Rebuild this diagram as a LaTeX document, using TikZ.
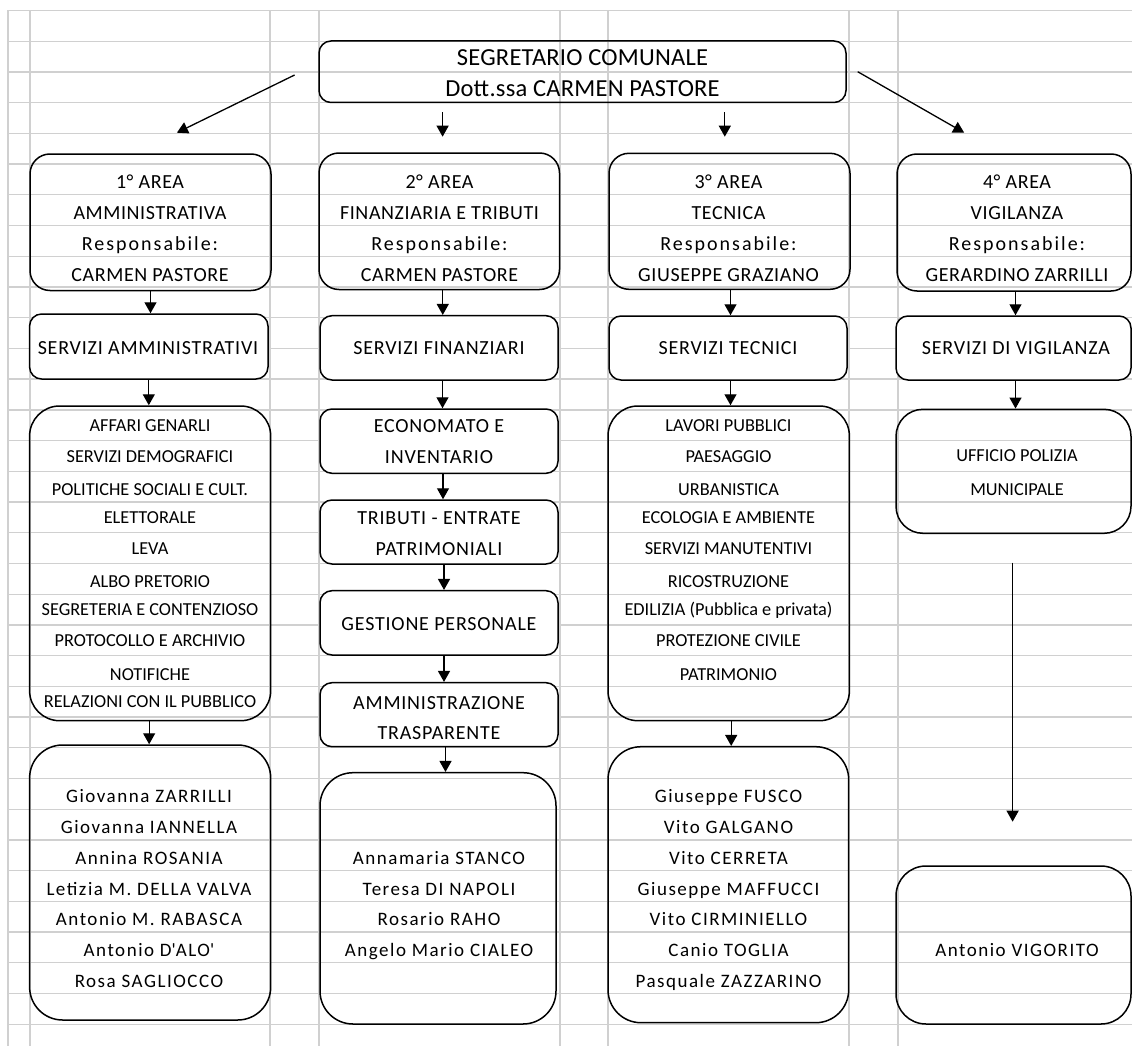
\documentclass[tikz,border=0pt]{standalone}
\usepackage{fontspec}
\setmainfont{Carlito}
\usepackage{tikz}
\usetikzlibrary{arrows.meta}
\definecolor{sheetgrid}{HTML}{D0D0D0}

\tikzset{
  gridline/.style={sheetgrid, line width=1.3pt},
  orgbox/.style={draw=black, line width=1.5pt, inner sep=0pt},
  fillbox/.style={orgbox, fill=white},
  link/.style={line width=1.3pt, -{Triangle[length=11pt, width=12pt]}},
  celltxt/.style={anchor=base, inner sep=0pt},
  titletxt/.style={celltxt, font=\fontsize{24.5}{24.5}\selectfont\addfontfeature{LetterSpace=1}},
  areatxt/.style={celltxt, font=\fontsize{20}{20}\selectfont\addfontfeature{LetterSpace=3}},
  resptxt/.style={celltxt, font=\fontsize{20}{20}\selectfont\addfontfeature{LetterSpace=10}},
  boxtxt/.style={celltxt, font=\fontsize{20}{20}\selectfont\addfontfeature{LetterSpace=4}},
  listtxt/.style={celltxt, font=\fontsize{18.3}{18.3}\selectfont},
  nametxt/.style={celltxt, font=\fontsize{19}{19}\selectfont\addfontfeature{LetterSpace=8}}
}

\begin{document}
\begin{tikzpicture}[x=1pt, y=-1pt]
  \useasboundingbox (0,0) rectangle (1132,1046);

  %% Sheet grid
  \foreach \k in {0,...,33}{
    \draw[gridline] (8,{10.5+30.72*\k}) -- (1132,{10.5+30.72*\k});
  }
  \foreach \x in {8,30,270,319,560,608,849,898}{
    \draw[gridline] (\x,10.5) -- (\x,1046);
  }

  %% Segretario
  \node[orgbox, rounded corners=12pt, minimum width=527pt, minimum height=61.5pt] (segr) at (582.5,71.75) {};
  \node[titletxt] (segr-t1) at (582.5,65.7) {SEGRETARIO COMUNALE};
  \node[titletxt] (segr-t2) at (582.5,96.7) {Dott.ssa CARMEN PASTORE};

  %% Areas
  \node[orgbox, rounded corners=20pt, minimum width=241pt, minimum height=136.5pt] (area1) at (150.5,222.25) {};
  \node[orgbox, rounded corners=20pt, minimum width=240.5pt, minimum height=136.5pt] (area2) at (439.25,221.25) {};
  \node[orgbox, rounded corners=20pt, minimum width=241pt, minimum height=136pt] (area3) at (729.5,221.3) {};
  \node[orgbox, rounded corners=20pt, minimum width=234pt, minimum height=137pt] (area4) at (1014,222.5) {};
  \foreach \i/\cx/\dept/\head in {
    1/150/AMMINISTRATIVA/CARMEN PASTORE,
    2/439.5/FINANZIARIA E TRIBUTI/CARMEN PASTORE,
    3/728.5/TECNICA/GIUSEPPE GRAZIANO,
    4/1017/VIGILANZA/GERARDINO ZARRILLI
  }{
    \node[areatxt] (area\i-t1) at (\cx,188.7) {\i° AREA};
    \node[areatxt] (area\i-t2) at (\cx,219.5) {\dept};
    \node[resptxt] (area\i-t3) at (\cx,250.3) {Responsabile:};
    \node[areatxt] (area\i-t4) at (\cx,281) {\head};
  }

  %% Servizi
  \node[fillbox, rounded corners=12pt, minimum width=238.4pt, minimum height=65pt] (serv1) at (148.8,346.5) {};
  \node[fillbox, rounded corners=12pt, minimum width=238pt, minimum height=64.3pt] (serv2) at (439,347.85) {};
  \node[fillbox, rounded corners=12pt, minimum width=238pt, minimum height=64pt] (serv3) at (728,348) {};
  \node[fillbox, rounded corners=12pt, minimum width=235pt, minimum height=64pt] (serv4) at (1013.5,348) {};
  \foreach \i/\cx/\txt in {1/148/SERVIZI AMMINISTRATIVI, 2/439/SERVIZI FINANZIARI, 3/728/SERVIZI TECNICI, 4/1016/SERVIZI DI VIGILANZA}{
    \node[boxtxt] (serv\i-t) at (\cx,354.7) {\txt};
  }

  %% Uffici area 1
  \node[orgbox, rounded corners=30pt, minimum width=241.1pt, minimum height=314.7pt] (list1) at (150.15,563.35) {};
  \foreach \y/\txt [count=\n] in {
    431.7/AFFARI GENARLI, 462/SERVIZI DEMOGRAFICI, 495.3/POLITICHE SOCIALI E CULT.,
    523.3/ELETTORALE, 554.3/LEVA, 587.7/ALBO PRETORIO, 615.3/SEGRETERIA E CONTENZIOSO,
    646.7/PROTOCOLLO E ARCHIVIO, 680.3/NOTIFICHE, 707.7/RELAZIONI CON IL PUBBLICO
  }{
    \node[listtxt] (list1-\n) at (150,\y) {\txt};
  }

  %% Uffici area 2
  \node[fillbox, rounded corners=12pt, minimum width=238pt, minimum height=64.3pt] (econ) at (439,441.15) {};
  \node[fillbox, rounded corners=12pt, minimum width=238pt, minimum height=64pt] (trib) at (439,532) {};
  \node[fillbox, rounded corners=12pt, minimum width=238pt, minimum height=64.3pt] (gest) at (439,622.85) {};
  \node[fillbox, rounded corners=12pt, minimum width=238pt, minimum height=64pt] (trasp) at (439,714.7) {};
  \foreach \y/\txt [count=\n] in {
    432.7/ECONOMATO E, 463.3/INVENTARIO, 524/TRIBUTI - ENTRATE, 555.7/PATRIMONIALI,
    630/GESTIONE PERSONALE, 709/AMMINISTRAZIONE, 739/TRASPARENTE
  }{
    \node[boxtxt] (fin-\n) at (439,\y) {\txt};
  }

  %% Uffici area 3
  \node[orgbox, rounded corners=30pt, minimum width=241.4pt, minimum height=314.7pt] (list3) at (728.7,563.35) {};
  \foreach \y/\txt [count=\n] in {
    431.7/LAVORI PUBBLICI, 462/PAESAGGIO, 495.3/URBANISTICA, 523.3/ECOLOGIA E AMBIENTE,
    554.3/SERVIZI MANUTENTIVI, 587.7/RICOSTRUZIONE, 615.3/EDILIZIA (Pubblica e privata),
    646.7/PROTEZIONE CIVILE, 680.3/PATRIMONIO
  }{
    \node[listtxt] (list3-\n) at (728.5,\y) {\txt};
  }

  %% Uffici area 4
  \node[orgbox, rounded corners=27pt, minimum width=235pt, minimum height=124pt] (list4) at (1013.5,471.3) {};
  \node[listtxt] (list4-1) at (1017,461.7) {UFFICIO POLIZIA};
  \node[listtxt] (list4-2) at (1017,495.7) {MUNICIPALE};

  %% Personale
  \node[orgbox, rounded corners=33pt, minimum width=241.1pt, minimum height=275pt] (staff1) at (150.15,882.5) {};
  \node[orgbox, rounded corners=33pt, minimum width=236pt, minimum height=251.3pt] (staff2) at (438,898.35) {};
  \node[orgbox, rounded corners=33pt, minimum width=240.7pt, minimum height=276pt] (staff3) at (728.35,884.7) {};
  \node[orgbox, rounded corners=30pt, minimum width=235pt, minimum height=158pt] (staff4) at (1013.5,945) {};
  \foreach \y/\txt [count=\n] in {
    802/Giovanna ZARRILLI, 833/Giovanna IANNELLA, 864/Annina ROSANIA,
    895/Letizia M. DELLA VALVA, 925.7/Antonio M. RABASCA,
    956.3/Antonio D\textquotesingle ALO\textquotesingle, 987/Rosa SAGLIOCCO
  }{
    \node[nametxt] (staff1-\n) at (149,\y) {\txt};
  }
  \foreach \y/\txt [count=\n] in {
    864/Annamaria STANCO, 895/Teresa DI NAPOLI, 925.7/Rosario RAHO, 956.3/Angelo Mario CIALEO
  }{
    \node[nametxt] (staff2-\n) at (439,\y) {\txt};
  }
  \foreach \y/\txt [count=\n] in {
    802/Giuseppe FUSCO, 833/Vito GALGANO, 864/Vito CERRETA, 895/Giuseppe MAFFUCCI,
    925.7/Vito CIRMINIELLO, 956.3/Canio TOGLIA, 987/Pasquale ZAZZARINO
  }{
    \node[nametxt] (staff3-\n) at (728.5,\y) {\txt};
  }
  \node[nametxt] (staff4-1) at (1017,956.3) {Antonio VIGORITO};

  %% Arrows from the Segretario
  \coordinate (segr-l) at (294.6,75);
  \coordinate (area1-in) at (176.9,132.7);
  \coordinate (segr-b2) at (442.6,112.3);
  \coordinate (area2-in) at (442.6,136.7);
  \coordinate (segr-b3) at (724.8,112.3);
  \coordinate (area3-in) at (724.8,136.7);
  \coordinate (segr-r) at (857.7,71.7);
  \coordinate (area4-in) at (964.2,132.7);
  \draw[link] (segr-l) -- (area1-in);
  \draw[link] (segr-b2) -- (area2-in);
  \draw[link] (segr-b3) -- (area3-in);
  \draw[link] (segr-r) -- (area4-in);

  %% Arrows down the columns
  \foreach \a/\b/\dx in {
    area1/serv1/0, serv1/list1/0, list1/staff1/-1,
    area2/serv2/3.5, serv2/econ/3.5, econ/trib/4, trib/gest/5, gest/trasp/5, trasp/staff2/6.5,
    area3/serv3/1, serv3/list3/2.5, list3/staff3/2.5,
    area4/serv4/1.5, serv4/list4/2
  }{
    \draw[link] ([xshift=\dx pt]\a.south) -- ([xshift=\dx pt]\a.south |- \b.north);
  }
  \coordinate (list4-out) at (1012.6,562.7);
  \coordinate (staff4-in) at (1012.6,821.7);
  \draw[link] (list4-out) -- (staff4-in);

\end{tikzpicture}
\end{document}
